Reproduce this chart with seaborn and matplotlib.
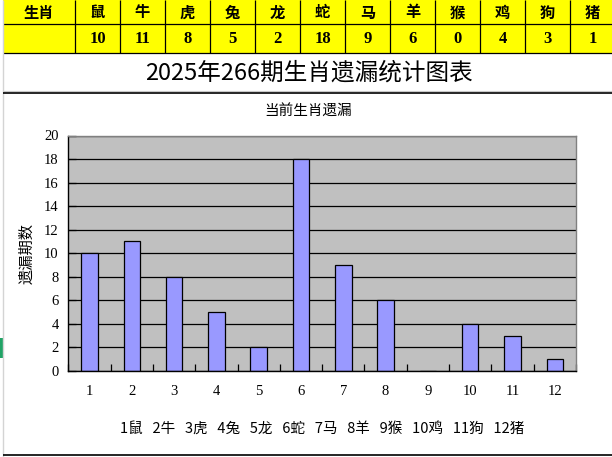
import matplotlib
matplotlib.use("Agg")
import matplotlib.pyplot as plt
from matplotlib.patches import Rectangle
from matplotlib.ticker import FixedLocator
import seaborn as sns
import pandas as pd

# Zodiac signs, their position numbers and missed-draw counts
zodiac = ['鼠', '牛', '虎', '兔', '龙', '蛇', '马', '羊', '猴', '鸡', '狗', '猪']
positions = ['1', '2', '3', '4', '5', '6', '7', '8', '9', '10', '11', '12']
misses = [10, 11, 8, 5, 2, 18, 9, 6, 0, 4, 3, 1]

header_label = '生肖'
main_title = '2025年266期生肖遗漏统计图表'
chart_title = '当前生肖遗漏'
y_title = '遗漏期数'
y_ticks = [0, 2, 4, 6, 8, 10, 12, 14, 16, 18, 20]

plt.rcParams['font.family'] = ['Noto Sans CJK SC', 'DejaVu Sans']
CJK = ['Noto Sans CJK SC', 'DejaVu Sans']
NUM = ['Liberation Serif', 'Noto Sans CJK SC']

W, H = 612, 457
fig = plt.figure(figsize=(W / 100, H / 100), dpi=100)
fig.patch.set_facecolor('white')

# Overlay in pixel coordinates for the sheet table, title and rules
ov = fig.add_axes([0, 0, 1, 1], zorder=0)
ov.set_xlim(0, W)
ov.set_ylim(H, 0)
ov.axis('off')

first_w, col_w, left = 75, 45, 3
ov.add_patch(Rectangle((left, 0), W - left, 53, facecolor='#FFFF00', edgecolor='none'))
ov.hlines([24, 53], left, W, color='black', lw=0.9)
ov.vlines([first_w + col_w * k for k in range(len(zodiac))], 0, 53, color='black', lw=0.9)
ov.vlines([2.5], 0, H, color='#D4D4D4', lw=1)
ov.add_patch(Rectangle((0, 338), 2.6, 20, facecolor='#21A366', edgecolor='none'))

ov.text((left + first_w) / 2, 12.5, header_label, ha='center', va='center',
        fontsize=11, fontweight='semibold', family=CJK)
for k, (z, v) in enumerate(zip(zodiac, misses)):
    cx = first_w + col_w * k + col_w / 2
    ov.text(cx, 12.5, z, ha='center', va='center', fontsize=11,
            fontweight='semibold', family=CJK)
    ov.text(cx, 39, str(v), ha='center', va='center', fontsize=12,
            fontweight='bold', family=NUM)

ov.text(309, 73, main_title, ha='center', va='center', fontsize=17, family=CJK)
ov.hlines([90.5], left, W, color='#C8C8C8', lw=0.8)
ov.hlines([93.3], left, W, color='black', lw=1.2)
ov.hlines([455], left, W, color='black', lw=1.2)
ov.text(308, 112, chart_title, ha='center', va='center', fontsize=10.5, family=CJK)

# Bar chart
x0, x1, ytop, ybot = 68.3, 576, 135.5, 371
ax = fig.add_axes([x0 / W, (H - ybot) / H, (x1 - x0) / W, (ybot - ytop) / H], zorder=1)
df = pd.DataFrame({'pos': positions, 'miss': misses})
sns.barplot(data=df, x='pos', y='miss', order=positions, color='#9999FF',
            saturation=1, edgecolor='black', linewidth=0.9, width=0.39, ax=ax)
ax.set_facecolor('#C0C0C0')
ax.set_xlim(-0.5, len(positions) - 0.5)
ax.set_ylim(0, 20)
ax.set_yticks(y_ticks)
ax.set_axisbelow(True)
ax.yaxis.grid(True, color='black', lw=0.9)
ax.xaxis.grid(False)

ax.xaxis.set_minor_locator(FixedLocator([k - 0.5 for k in range(len(positions) + 1)]))
ax.tick_params(axis='x', which='major', length=0, pad=10, labelsize=10.5)
ax.tick_params(axis='x', which='minor', direction='in', length=5, width=0.9, color='black')
ax.tick_params(axis='y', which='major', direction='in', length=6, width=0.9,
               color='black', pad=7, labelsize=10.5)
for lab in ax.get_xticklabels() + ax.get_yticklabels():
    lab.set_family(NUM)

for side in ['left', 'bottom']:
    ax.spines[side].set_color('black')
    ax.spines[side].set_linewidth(1.0)
for side in ['top', 'right']:
    ax.spines[side].set_color('#808080')
    ax.spines[side].set_linewidth(1.0)

ax.set_ylabel(y_title, fontsize=11, family=CJK, labelpad=6)
ax.set_xlabel('   '.join(f'{p}{z}' for p, z in zip(positions, zodiac)),
              fontsize=10.5, family=CJK, labelpad=18)

fig.savefig('out.png', dpi=100)
